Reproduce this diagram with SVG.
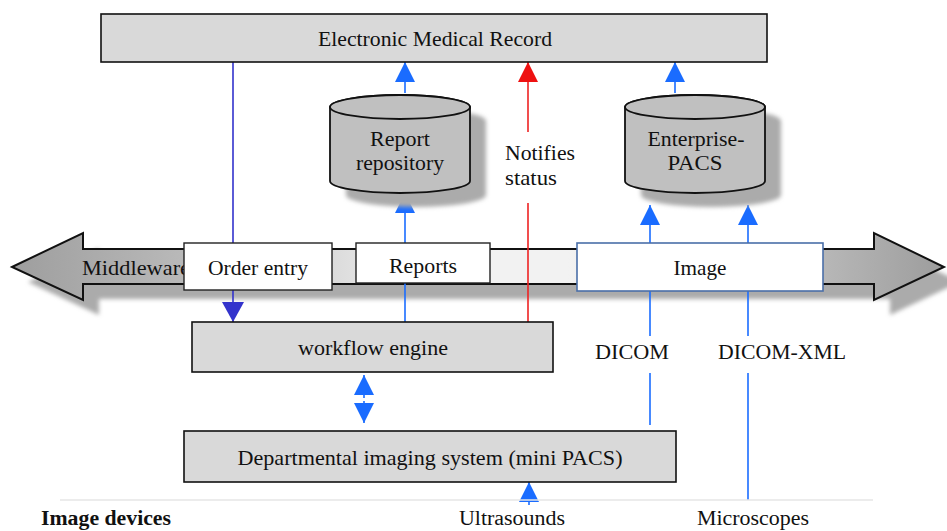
<svg xmlns="http://www.w3.org/2000/svg" width="947" height="531" viewBox="0 0 947 531">
<defs>
<style>
text{font-family:"Liberation Serif","Times New Roman",serif;font-size:22px;fill:#111;text-anchor:middle}
text.s{text-anchor:start}
text.b{font-weight:bold;font-size:20px}
text.d{font-size:20px}
.box{fill:#d9d9d9;stroke:#111;stroke-width:1.6}
.wbox{fill:#fff;stroke:#222;stroke-width:1.4}
.cyl{fill:#c0c0c0;stroke:#111;stroke-width:1.8}
.blue{stroke:#1a6cff;stroke-width:1.6;fill:none}
.dblue{stroke:#3333cc;stroke-width:1.6;fill:none}
.red{stroke:#ee2222;stroke-width:1.6;fill:none}
.shadow{fill:#ababab;filter:url(#blur)}
</style>
<filter id="blur" x="-10%" y="-10%" width="120%" height="130%"><feGaussianBlur stdDeviation="2"/></filter>
<linearGradient id="mw" x1="0" y1="0" x2="947" y2="0" gradientUnits="userSpaceOnUse">
<stop offset="0" stop-color="#9c9c9c"/>
<stop offset="0.22" stop-color="#bdbdbd"/>
<stop offset="0.45" stop-color="#f2f2f2"/>
<stop offset="0.6" stop-color="#f2f2f2"/>
<stop offset="0.88" stop-color="#b5b5b5"/>
<stop offset="1" stop-color="#9c9c9c"/>
</linearGradient>
<marker id="ab" markerUnits="userSpaceOnUse" markerWidth="20" markerHeight="20" refX="20" refY="10" orient="auto" viewBox="0 0 20 20"><path d="M0,0 L20,10 L0,20 Z" fill="#1a6cff"/></marker>
<marker id="adb" markerUnits="userSpaceOnUse" markerWidth="20" markerHeight="22" refX="20" refY="11" orient="auto" viewBox="0 0 20 22"><path d="M0,0 L20,11 L0,22 Z" fill="#3333cc"/></marker>
<marker id="ar" markerUnits="userSpaceOnUse" markerWidth="20" markerHeight="20" refX="20" refY="10" orient="auto" viewBox="0 0 20 20"><path d="M0,0 L20,10 L0,20 Z" fill="#ee1111"/></marker>
</defs>
<rect width="947" height="531" fill="#fff"/>

<g id="middleware">
<path class="shadow" transform="translate(16,15)" d="M12,267 L83,233 L83,249 L874,249 L874,233 L944,267 L874,300 L874,284 L83,284 L83,300 Z"/>
<path d="M12,267 L83,233 L83,249 L874,249 L874,233 L944,267 L874,300 L874,284 L83,284 L83,300 Z" fill="url(#mw)" stroke="#111" stroke-width="2"/>
<text class="s" x="82" y="275" textLength="108" lengthAdjust="spacingAndGlyphs">Middleware</text>
</g>

<g id="connectors">
<line class="dblue" x1="233" y1="62" x2="233" y2="322" marker-end="url(#adb)"/>
<line class="blue" x1="405" y1="93" x2="405" y2="62" marker-end="url(#ab)"/>
<line class="blue" x1="675" y1="93" x2="675" y2="62" marker-end="url(#ab)"/>
<line class="red" x1="528" y1="132" x2="528" y2="62" marker-end="url(#ar)"/>
<line class="red" x1="528" y1="322" x2="528" y2="203"/>
<line class="blue" x1="405" y1="322" x2="405" y2="193" marker-end="url(#ab)"/>
<line class="blue" x1="650" y1="243" x2="650" y2="205" marker-end="url(#ab)"/>
<line class="blue" x1="748" y1="243" x2="748" y2="205" marker-end="url(#ab)"/>
<line class="blue" x1="650" y1="291" x2="650" y2="336"/>
<line class="blue" x1="650" y1="373" x2="650" y2="425"/>
<line class="blue" x1="748" y1="291" x2="748" y2="336"/>
<line class="blue" x1="748" y1="373" x2="748" y2="500"/>
<line class="blue" x1="364" y1="399" x2="364" y2="375" marker-end="url(#ab)"/>
<line class="blue" x1="364" y1="400" x2="364" y2="423" marker-end="url(#ab)"/>
<line x1="354" y1="399.5" x2="374" y2="399.5" stroke="#fff" stroke-width="3"/>
<line class="blue" x1="529" y1="505" x2="529" y2="482" marker-end="url(#ab)"/>
</g>

<g id="emr">
<rect class="box" x="101" y="14" width="666" height="48"/>
<text x="435" y="46" textLength="234" lengthAdjust="spacingAndGlyphs">Electronic Medical Record</text>
</g>

<g id="report-repository">
<path class="shadow" transform="translate(16,14)" d="M330,107 A70,12 0 0 1 470,107 L470,181 A70,12 0 0 1 330,181 Z"/>
<path class="cyl" d="M330,107 A70,12 0 0 1 470,107 L470,181 A70,12 0 0 1 330,181 Z"/>
<ellipse class="cyl" cx="400" cy="107" rx="70" ry="12"/>
<text x="400" y="146" textLength="60" lengthAdjust="spacingAndGlyphs">Report</text>
<text x="400" y="170" textLength="88" lengthAdjust="spacingAndGlyphs">repository</text>
</g>

<g id="enterprise-pacs">
<path class="shadow" transform="translate(16,14)" d="M625,107 A70,12 0 0 1 765,107 L765,181 A70,12 0 0 1 625,181 Z"/>
<path class="cyl" d="M625,107 A70,12 0 0 1 765,107 L765,181 A70,12 0 0 1 625,181 Z"/>
<ellipse class="cyl" cx="695" cy="107" rx="70" ry="12"/>
<text x="696" y="146" textLength="97" lengthAdjust="spacingAndGlyphs">Enterprise-</text>
<text x="695" y="170" textLength="55" lengthAdjust="spacingAndGlyphs">PACS</text>
</g>

<g id="notifies-label">
<text class="s" x="505" y="160" textLength="70" lengthAdjust="spacingAndGlyphs">Notifies</text>
<text class="s" x="505" y="185" textLength="52" lengthAdjust="spacingAndGlyphs">status</text>
</g>

<g id="order-entry">
<rect class="wbox" x="184" y="243" width="148" height="47"/>
<text x="258" y="275" textLength="100" lengthAdjust="spacingAndGlyphs">Order entry</text>
</g>

<g id="reports">
<rect class="wbox" x="356" y="243" width="134" height="40"/>
<text x="423" y="273" textLength="68" lengthAdjust="spacingAndGlyphs">Reports</text>
</g>

<g id="image">
<rect x="577" y="243" width="246" height="48" fill="#fff" stroke="#4a6fa8" stroke-width="1.6"/>
<text x="700" y="275" textLength="53" lengthAdjust="spacingAndGlyphs">Image</text>
</g>

<g id="workflow-engine">
<rect class="box" x="192" y="322" width="361" height="50"/>
<text x="373" y="355" textLength="150" lengthAdjust="spacingAndGlyphs">workflow engine</text>
</g>

<g id="dicom-labels">
<text x="632" y="359" textLength="74" lengthAdjust="spacingAndGlyphs">DICOM</text>
<text x="782" y="359" textLength="128" lengthAdjust="spacingAndGlyphs">DICOM-XML</text>
</g>

<g id="departmental">
<rect class="box" x="184" y="431" width="492" height="51"/>
<text x="430" y="465" textLength="385" lengthAdjust="spacingAndGlyphs">Departmental imaging system (mini PACS)</text>
</g>

<g id="image-devices">
<line x1="60" y1="500" x2="873" y2="500" stroke="#e6e6e6" stroke-width="1.5"/>
<text class="s b" x="41" y="525" textLength="130" lengthAdjust="spacingAndGlyphs">Image devices</text>
<text class="d" x="512" y="525" textLength="106" lengthAdjust="spacingAndGlyphs">Ultrasounds</text>
<text class="d" x="753" y="525" textLength="112" lengthAdjust="spacingAndGlyphs">Microscopes</text>
</g>
</svg>
